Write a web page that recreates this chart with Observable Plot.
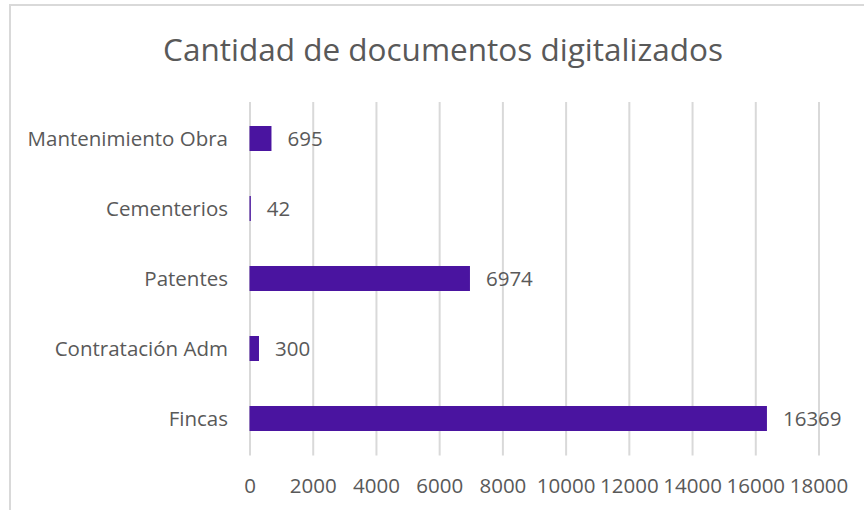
<!DOCTYPE html>
<html>
<head>
<meta charset="utf-8">
<script src="https://cdn.jsdelivr.net/npm/d3@7"></script>
<script src="https://cdn.jsdelivr.net/npm/@observablehq/plot@0.6"></script>
<style>
  html, body { margin: 0; padding: 0; background: #fff; }
  #wrap { position: relative; width: 864px; height: 510px; overflow: hidden; }
  #border { position: absolute; left: 9px; top: 4px; width: 900px; height: 600px; border: 2px solid #d9d9d9; box-sizing: border-box; }
  #chart { position: absolute; left: 0; top: 0; }
</style>
</head>
<body>
<div id="wrap"><div id="border"></div><div id="chart"></div></div>
<script>
const title = "Cantidad de documentos digitalizados";
const categories = ["Mantenimiento Obra", "Cementerios", "Patentes", "Contratación Adm", "Fincas"];
const values = [695, 42, 6974, 300, 16369];
const xTicks = [0, 2000, 4000, 6000, 8000, 10000, 12000, 14000, 16000, 18000];

const data = categories.map((c, i) => ({category: c, value: values[i]}));
const font = "'Open Sans', sans-serif";
const textColor = "#595959";
const barColor = "#4a14a0";

const chart = Plot.plot({
  width: 864,
  height: 510,
  marginLeft: 249.5,
  marginRight: 45.5,
  marginTop: 102,
  marginBottom: 54.5,
  style: {fontFamily: font, fontSize: "20.5px", color: textColor, background: "transparent"},
  x: {domain: [0, 18000], ticks: xTicks, tickFormat: d => String(d), tickSize: 0, tickPadding: 22, label: null},
  y: {domain: categories, paddingInner: 0.645, paddingOuter: 0.3225, tickSize: 0, tickPadding: 22, label: null},
  marks: [
    Plot.gridX(xTicks, {stroke: "#d9d9d9", strokeOpacity: 1, strokeWidth: 2}),
    Plot.barX(data, {y: "category", x: "value", fill: barColor}),
    Plot.text(data, {y: "category", x: "value", text: d => String(d.value), textAnchor: "start", dx: 15.5, fill: textColor, fontSize: 20.5}),
    Plot.text([title], {frameAnchor: "top", lineAnchor: "middle", text: d => d, dy: -52, dx: -91.5, fontSize: 31.5, fill: textColor})
  ]
});
document.getElementById("chart").appendChild(chart);
</script>
</body>
</html>
